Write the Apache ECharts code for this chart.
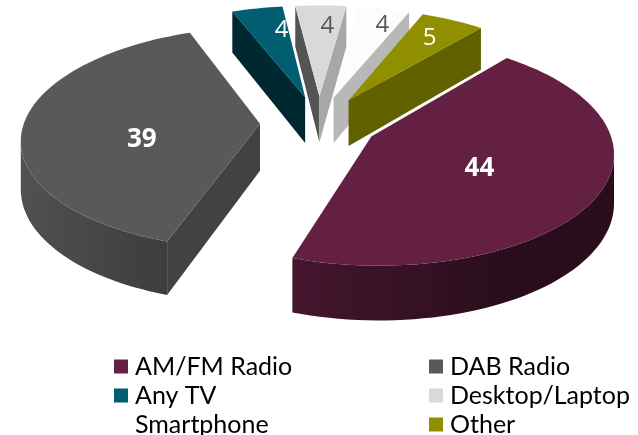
<!DOCTYPE html>
<html>
<head>
<meta charset="utf-8">
<style>
  html, body { margin: 0; padding: 0; background: #fff; }
  #chart { width: 638px; height: 435px; }
</style>
<script src="https://cdn.jsdelivr.net/npm/echarts@6/dist/echarts.min.js"></script>
</head>
<body>
<div id="chart"></div>
<script>
  const categories = ['AM/FM Radio', 'DAB Radio', 'Any TV', 'Desktop/Laptop', 'Smartphone', 'Other']
  const values = [44, 39, 4, 4, 4, 5]
  const sliceColors = ['#632042', '#595959', '#005E70', '#D9D9D9', '#FCFCFC', '#8F8F00']
  const labelColors = ['#fff', '#fff', '#fff', '#595959', '#595959', '#fff']
  // labels were dragged by hand in the original, pixels off the computed spot
  const labelNudge = [[-13, 1], [12, 14], [12, -1], [7, -3], [11, -7], [4, -3]]

  // 3D pie projection
  const startAngle = 40
  const cx = 319
  const cy = 123
  const rx = 236
  const ry = 109
  const persp = 0.127 // back of the pie shrinks, front grows
  const explode = 0.25
  const depth = 47

  const total = values.reduce((a, b) => a + b, 0)
  const rad = (d) => (d * Math.PI) / 180

  const project = (u, v) => {
    const s = 1 / (1 + persp * v)
    return { x: cx + rx * u * s, y: cy - ry * v * s, d: depth * s }
  }

  const shade = (hex, f) => {
    const n = parseInt(hex.slice(1), 16)
    const c = [(n >> 16) & 255, (n >> 8) & 255, n & 255].map((p) => Math.round(p * f))
    return `rgb(${c[0]},${c[1]},${c[2]})`
  }

  /** one exploded slice: visible walls first, top face and label over them */
  const renderSlice = (index) => () => {
    const before = values.slice(0, index).reduce((a, b) => a + b, 0)
    const from = startAngle + (before / total) * 360
    const to = from + (values[index] / total) * 360
    const mid = rad((from + to) / 2)
    const ou = explode * Math.sin(mid)
    const ov = explode * Math.cos(mid)
    const color = sliceColors[index]

    const apex = project(ou, ov)
    const rim = []
    const steps = Math.ceil((to - from) / 2)
    for (let i = 0; i <= steps; i++) {
      const t = rad(from + ((to - from) * i) / steps)
      const p = project(ou + Math.sin(t), ov + Math.cos(t))
      p.u = Math.sin(t)
      rim.push(p)
    }

    const children = []
    // straight walls, lit from the right
    ;[[apex, rim[0]], [rim[steps], apex]].forEach(([a, b]) => {
      if (b.x >= a.x) return
      const nx = (a.y - b.y) / Math.hypot(a.x - b.x, a.y - b.y)
      const fill = shade(color, 0.58 + 0.2 * -nx)
      children.push({
        type: 'polygon',
        shape: { points: [[a.x, a.y], [b.x, b.y], [b.x, b.y + b.d], [a.x, a.y + a.d]] },
        style: { fill }
      })
    })
    // curved wall in one piece, darker towards the right
    const front = rim.filter((p, i) => (i < steps && rim[i + 1].x < p.x) || (i > 0 && rim[i - 1].x > p.x))
    if (front.length > 1) {
      const right = front[0].x
      const left = front[front.length - 1].x
      const stops = front
        .map((p) => ({
          offset: (p.x - left) / (right - left),
          color: shade(color, Math.max(0.42, 0.58 - 0.35 * p.u))
        }))
        .reverse()
      children.push({
        type: 'polygon',
        shape: {
          points: front
            .map((p) => [p.x, p.y])
            .concat(front.slice().reverse().map((p) => [p.x, p.y + p.d]))
        },
        style: {
          fill: new echarts.graphic.LinearGradient(left, 0, right, 0, stops, true)
        }
      })
    }
    children.push({
      type: 'polygon',
      shape: { points: [[apex.x, apex.y]].concat(rim.map((p) => [p.x, p.y])) },
      style: { fill: color }
    })

    const big = values[index] > 10
    const lr = big ? 0.55 : 0.72
    const lp = project(ou + lr * Math.sin(mid), ov + lr * Math.cos(mid))
    children.push({
      type: 'text',
      style: {
        text: String(values[index]),
        x: lp.x + labelNudge[index][0],
        y: lp.y + labelNudge[index][1],
        align: 'center',
        verticalAlign: 'middle',
        fill: labelColors[index],
        font: big ? 'bold 26px "Open Sans"' : '24px "Open Sans"'
      }
    })
    return { type: 'group', children }
  }

  // back slices first so the front ones sit on top
  const drawOrder = [4, 3, 2, 5, 1, 0]

  const legendBase = {
    orient: 'vertical',
    top: 352,
    height: 100,
    itemWidth: 14,
    itemHeight: 14,
    itemGap: 0,
    padding: 0,
    icon: 'rect',
    inactiveColor: '#000',
    textStyle: {
      color: '#000',
      fontFamily: 'Lato',
      fontSize: 25,
      lineHeight: 29,
      padding: [0, 0, 0, 2]
    }
  }

  const chart = echarts.init(document.getElementById('chart'))
  chart.setOption({
    animation: false,
    backgroundColor: '#fff',
    legend: [
      Object.assign({}, legendBase, {
        left: 114,
        // the Smartphone swatch is pure white in the original
        data: [categories[0], categories[2], { name: categories[4], itemStyle: { color: '#fff' } }]
      }),
      Object.assign({}, legendBase, { left: 429, data: [categories[1], categories[3], categories[5]] })
    ],
    series: drawOrder.map((i) => ({
      type: 'custom',
      name: categories[i],
      coordinateSystem: 'none',
      itemStyle: { color: sliceColors[i] },
      data: [[values[i]]],
      renderItem: renderSlice(i)
    }))
  })
</script>
</body>
</html>
